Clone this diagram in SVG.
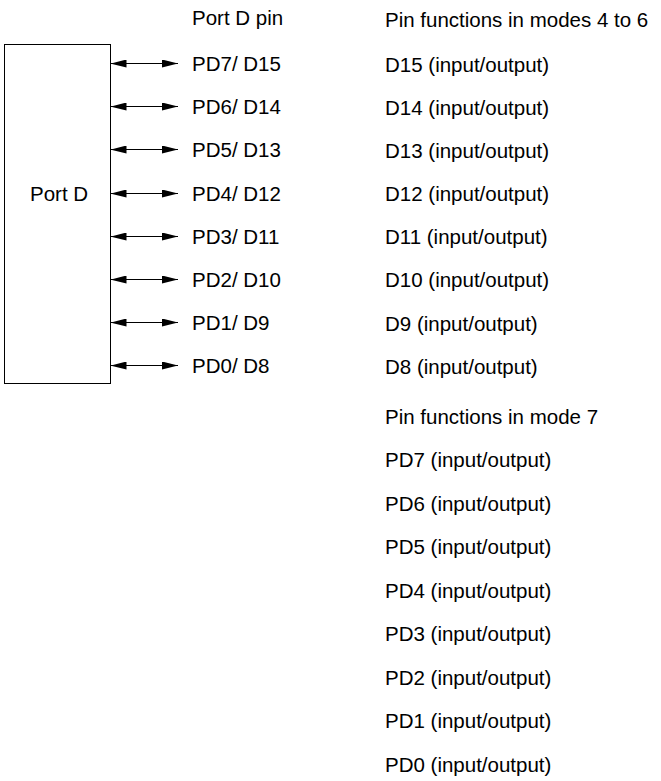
<svg xmlns="http://www.w3.org/2000/svg" width="661" height="781" viewBox="0 0 661 781">
<defs>
<style>
text{font-family:"Liberation Sans",Arial,sans-serif;font-size:20.5px;fill:#000}
.ln{stroke:#000;stroke-width:1;fill:none}
</style>
<marker id="ah" viewBox="0 0 16 8" refX="16" refY="4" markerWidth="16" markerHeight="8" markerUnits="userSpaceOnUse" orient="auto-start-reverse">
<path d="M0,0 L16,4 L0,8 Z" fill="#000"/>
</marker>
</defs>
<rect width="661" height="781" fill="#fff"/>
<g id="portD">
<rect x="4.5" y="44.5" width="106" height="339" class="ln"/>
<text x="30" y="200.5">Port D</text>
</g>
<g id="connectors">
<line x1="110.5" y1="63.5" x2="178" y2="63.5" class="ln" marker-start="url(#ah)" marker-end="url(#ah)"/>
<line x1="110.5" y1="106.5" x2="178" y2="106.5" class="ln" marker-start="url(#ah)" marker-end="url(#ah)"/>
<line x1="110.5" y1="149.5" x2="178" y2="149.5" class="ln" marker-start="url(#ah)" marker-end="url(#ah)"/>
<line x1="110.5" y1="193.5" x2="178" y2="193.5" class="ln" marker-start="url(#ah)" marker-end="url(#ah)"/>
<line x1="110.5" y1="236.5" x2="178" y2="236.5" class="ln" marker-start="url(#ah)" marker-end="url(#ah)"/>
<line x1="110.5" y1="279.5" x2="178" y2="279.5" class="ln" marker-start="url(#ah)" marker-end="url(#ah)"/>
<line x1="110.5" y1="322.5" x2="178" y2="322.5" class="ln" marker-start="url(#ah)" marker-end="url(#ah)"/>
<line x1="110.5" y1="365.5" x2="178" y2="365.5" class="ln" marker-start="url(#ah)" marker-end="url(#ah)"/>
</g>
<g id="pins">
<text x="192" y="25">Port D pin</text>
<text x="192" y="71">PD7/ D15</text>
<text x="192" y="114">PD6/ D14</text>
<text x="192" y="157">PD5/ D13</text>
<text x="192" y="201">PD4/ D12</text>
<text x="192" y="244">PD3/ D11</text>
<text x="192" y="287">PD2/ D10</text>
<text x="192" y="330">PD1/ D9</text>
<text x="192" y="373">PD0/ D8</text>
</g>
<g id="modes4to6">
<text x="385" y="27">Pin functions in modes 4 to 6</text>
<text x="385" y="71.5">D15 (input/output)</text>
<text x="385" y="114.5">D14 (input/output)</text>
<text x="385" y="157.5">D13 (input/output)</text>
<text x="385" y="201">D12 (input/output)</text>
<text x="385" y="244">D11 (input/output)</text>
<text x="385" y="287">D10 (input/output)</text>
<text x="385" y="330.5">D9 (input/output)</text>
<text x="385" y="373.5">D8 (input/output)</text>
</g>
<g id="mode7">
<text x="385" y="423.5">Pin functions in mode 7</text>
<text x="385" y="467">PD7 (input/output)</text>
<text x="385" y="510.5">PD6 (input/output)</text>
<text x="385" y="554">PD5 (input/output)</text>
<text x="385" y="597.5">PD4 (input/output)</text>
<text x="385" y="641">PD3 (input/output)</text>
<text x="385" y="684.5">PD2 (input/output)</text>
<text x="385" y="728">PD1 (input/output)</text>
<text x="385" y="771.5">PD0 (input/output)</text>
</g>
</svg>
